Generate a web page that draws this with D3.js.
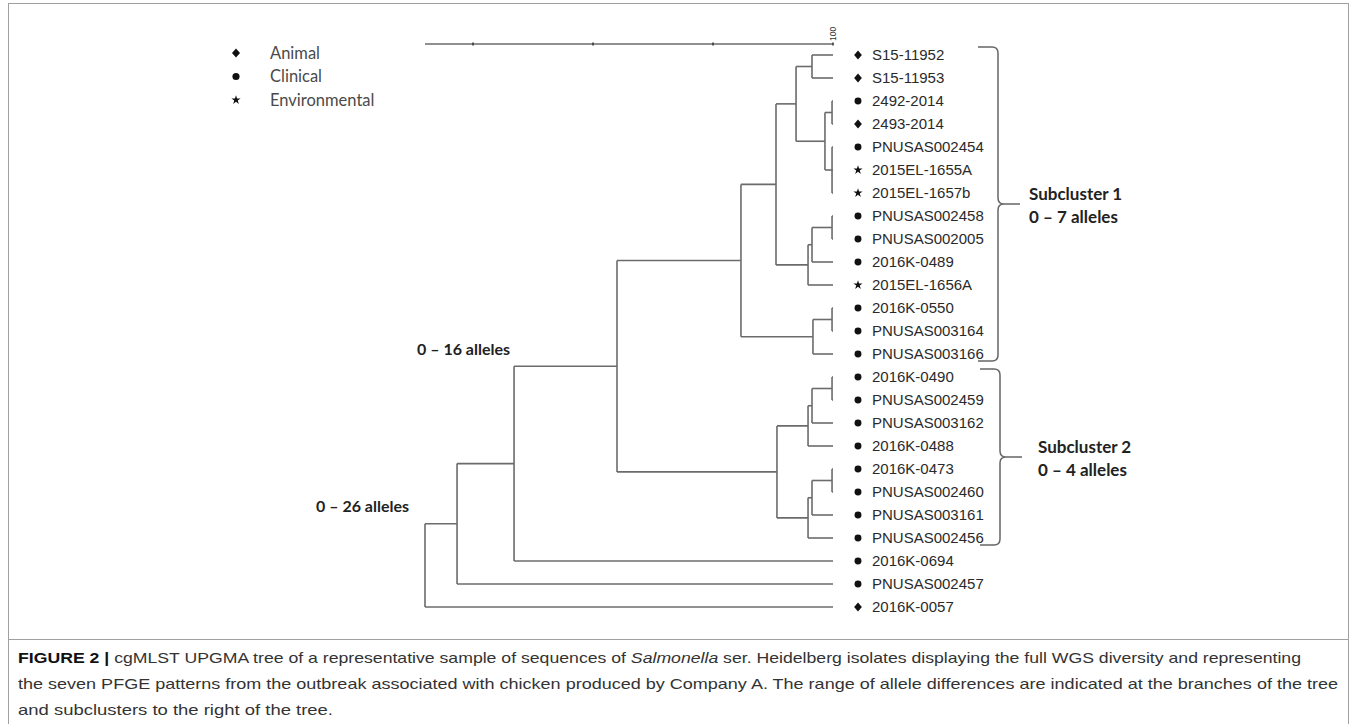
<!DOCTYPE html>
<html><head><meta charset="utf-8">
<script src="https://cdn.jsdelivr.net/npm/d3@7"></script>
<style>body{margin:0;background:#fff}svg{display:block}</style>
</head><body><svg id="c" width="1357" height="724"></svg>
<script>
// ---------- data ----------
const leafNames = ["S15-11952","S15-11953","2492-2014","2493-2014","PNUSAS002454","2015EL-1655A","2015EL-1657b",
  "PNUSAS002458","PNUSAS002005","2016K-0489","2015EL-1656A","2016K-0550","PNUSAS003164","PNUSAS003166",
  "2016K-0490","PNUSAS002459","PNUSAS003162","2016K-0488","2016K-0473","PNUSAS002460","PNUSAS003161","PNUSAS002456",
  "2016K-0694","PNUSAS002457","2016K-0057"];
const leafTypes = ["Animal","Animal","Clinical","Animal","Clinical","Environmental","Environmental",
  "Clinical","Clinical","Clinical","Environmental","Clinical","Clinical","Clinical",
  "Clinical","Clinical","Clinical","Clinical","Clinical","Clinical","Clinical","Clinical",
  "Clinical","Clinical","Animal"];
const leafParents = ["A","A","B1","B1","B2","B2","B2","C1","C1","C2","C","D1","D1","D",
  "E1a","E1a","E1b","E1","E2a","E2a","E2b","E2","G","H","root"];
// internal nodes (heights in tree-distance units, tips at 0)
const nodeIds     = ["root","H","G","F","ABCD","ABC","AB","A","B","B1","B2","C","C2","C1","D","D1","E","E1","E1b","E1a","E2","E2b","E2a"];
const nodeParents = [null,"root","H","G","F","ABCD","ABC","AB","AB","B","B","ABC","C","C2","ABCD","D","F","E","E1","E1b","E","E2","E2b"];
const nodeHeights = [34,31.33,26.58,18.0,7.67,4.75,3.08,1.75,0.67,0.08,0.08,2.08,1.75,0.08,1.67,0.08,4.67,2.08,1.75,0.08,2.08,1.75,0.08];
const scaleTicks = [0,10,20,30];
const scaleLabel = "100";
const legendItems = ["Animal","Clinical","Environmental"];
const branchLabels = ["0 – 16 alleles","0 – 26 alleles"];
const branchLabelNodes = ["G","root"];
const subclusterNames = ["Subcluster 1","Subcluster 2"];
const subclusterRanges = ["0 – 7 alleles","0 – 4 alleles"];
const subclusterFirst = ["S15-11952","2016K-0490"];
const subclusterLast = ["PNUSAS003166","PNUSAS002456"];
const captionLines = [
  [["FIGURE 2 | ","b"],["cgMLST UPGMA tree of a representative sample of sequences of ",""],["Salmonella","i"],[" ser. Heidelberg isolates displaying the full WGS diversity and representing",""]],
  [["the seven PFGE patterns from the outbreak associated with chicken produced by Company A. The range of allele differences are indicated at the branches of the tree",""]],
  [["and subclusters to the right of the tree.",""]]
];

// ---------- build ----------
const svg = d3.select("#c");
const rows = nodeIds.map((id,i)=>({id, parent:nodeParents[i], h:nodeHeights[i], leaf:false}))
  .concat(leafNames.map((id,i)=>({id, parent:leafParents[i], h:0, leaf:true, type:leafTypes[i]})));
const root = d3.stratify().id(d=>d.id).parentId(d=>d.parent)(rows);

const x = d3.scaleLinear().domain([34,0]).range([425,833]);
const y = d3.scalePoint().domain(leafNames).range([55,607]);

root.eachAfter(n=>{
  n.px = x(n.data.h);
  if(!n.children){ n.py = y(n.data.id); }
  else { const ys = n.children.map(c=>c.py); n.py = (d3.min(ys)+d3.max(ys))/2; n.ymin=d3.min(ys); n.ymax=d3.max(ys);}
});

// frame
svg.append("rect").attr("x",8.5).attr("y",3.5).attr("width",1340).attr("height",636)
  .attr("fill","none").attr("stroke","#a0a0a0").attr("stroke-width",1);
svg.append("line").attr("x1",8.5).attr("x2",8.5).attr("y1",640).attr("y2",724).attr("stroke","#a0a0a0");
svg.append("line").attr("x1",1348.5).attr("x2",1348.5).attr("y1",640).attr("y2",724).attr("stroke","#a0a0a0");

const lineCol = "#6b6b6b";
// scale bar
const sb = svg.append("g").attr("transform","translate(0,44)");
sb.append("line").attr("x1",x(34)).attr("x2",x(0)).attr("stroke",lineCol).attr("stroke-width",1.6);
sb.selectAll(".tk").data(scaleTicks).join("line").attr("x1",d=>x(d)).attr("x2",d=>x(d))
  .attr("y1",-1.5).attr("y2",1.5).attr("stroke","#333").attr("stroke-width",1.5);
sb.append("text").attr("transform",`translate(${x(0)+3},-3) rotate(-90)`)
  .attr("font-family","Liberation Sans, Arial, sans-serif").attr("font-size",8.5).attr("fill","#333").text(scaleLabel);

// tree
const tg = svg.append("g").attr("fill","none").attr("stroke",lineCol).attr("stroke-width",1.6);
root.descendants().forEach(n=>{
  if(n.parent){
    tg.append("line").attr("x1",n.parent.px).attr("x2",n.px).attr("y1",n.py).attr("y2",n.py);
  }
  if(n.children){
    tg.append("line").attr("x1",n.px).attr("x2",n.px).attr("y1",n.ymin).attr("y2",n.ymax);
  }
});

// symbols
const diamond = { draw(ctx, size){ const a=Math.sqrt(size/2), b=a*1.15;
  ctx.moveTo(0,-b); ctx.lineTo(a,0); ctx.lineTo(0,b); ctx.lineTo(-a,0); ctx.closePath(); } };
const symType = {Animal:diamond, Clinical:d3.symbolCircle, Environmental:d3.symbolStar};
const symSize = {Animal:30, Clinical:38, Environmental:26};
const leaves = root.leaves();
svg.append("g").selectAll("path").data(leaves).join("path")
  .attr("transform",d=>`translate(858,${d.py})`)
  .attr("d",d=>d3.symbol(symType[d.data.type], symSize[d.data.type])())
  .attr("fill","#111");
svg.append("g").selectAll("text").data(leaves).join("text")
  .attr("x",872).attr("y",d=>d.py).attr("dy","0.36em")
  .attr("font-family","Liberation Sans, Arial, sans-serif").attr("font-size",15).attr("fill","#2a2a2a")
  .text(d=>d.data.id);

// legend
const lg = svg.append("g");
legendItems.forEach((t,i)=>{
  const yy = 53 + i*23.5;
  lg.append("path").attr("transform",`translate(236,${yy})`)
    .attr("d",d3.symbol(symType[t], t==="Environmental"?26:(t==="Animal"?32:40))()).attr("fill","#111");
  lg.append("text").attr("x",270).attr("y",yy).attr("dy","0.36em")
    .attr("font-family","Lato, sans-serif").attr("font-size",16.5).attr("fill","#4a4a4a").text(t);
});

// branch labels
const byId = new Map(root.descendants().map(n=>[n.data.id,n]));
const blDx = [-4,-16], blDy = [-17,-18];
branchLabels.forEach((t,i)=>{
  const n = byId.get(branchLabelNodes[i]);
  svg.append("text").attr("x",n.px+blDx[i]).attr("y",n.ymin+blDy[i]).attr("dy","0.36em").attr("text-anchor","end")
    .attr("font-family","Lato, sans-serif").attr("font-weight","bold").attr("font-size",16).attr("fill","#222").text(t);
});

// subcluster braces
const bx = [998,1000], lx = [1029,1038];
subclusterNames.forEach((t,i)=>{
  const top = y(subclusterFirst[i]) - 8, bot = y(subclusterLast[i]) + 7, mid=(top+bot)/2, X=bx[i];
  const p = `M${X-20},${top} L${X-6},${top} Q${X},${top} ${X},${top+6} L${X},${mid-6} Q${X},${mid} ${X+6},${mid} L${X+22},${mid} M${X+6},${mid} Q${X},${mid} ${X},${mid+6} L${X},${bot-6} Q${X},${bot} ${X-6},${bot} L${X-20},${bot}`;
  svg.append("path").attr("d",p).attr("fill","none").attr("stroke","#666").attr("stroke-width",1.5);
  svg.append("text").attr("x",lx[i]).attr("y",mid-10).attr("dy","0.36em")
    .attr("font-family","Lato, sans-serif").attr("font-weight","bold").attr("font-size",17).attr("fill","#222").text(t);
  svg.append("text").attr("x",lx[i]).attr("y",mid+13).attr("dy","0.36em")
    .attr("font-family","Lato, sans-serif").attr("font-weight","bold").attr("font-size",17).attr("fill","#222").text(subclusterRanges[i]);
});

// caption
const capW = [1283,1320,315];
captionLines.forEach((segs,i)=>{
  const t = svg.append("text").attr("x",18).attr("y",663+i*26)
    .attr("font-family","Liberation Sans Narrow, Liberation Sans, Arial, sans-serif").attr("font-size",15).attr("fill","#333")
    .attr("textLength",capW[i]).attr("lengthAdjust","spacingAndGlyphs");
  segs.forEach(([s,st])=>{
    const ts = t.append("tspan").text(s);
    if(st==="b") ts.attr("font-weight","bold").attr("fill","#111");
    if(st==="i") ts.attr("font-style","italic");
  });
});
</script></body></html>
